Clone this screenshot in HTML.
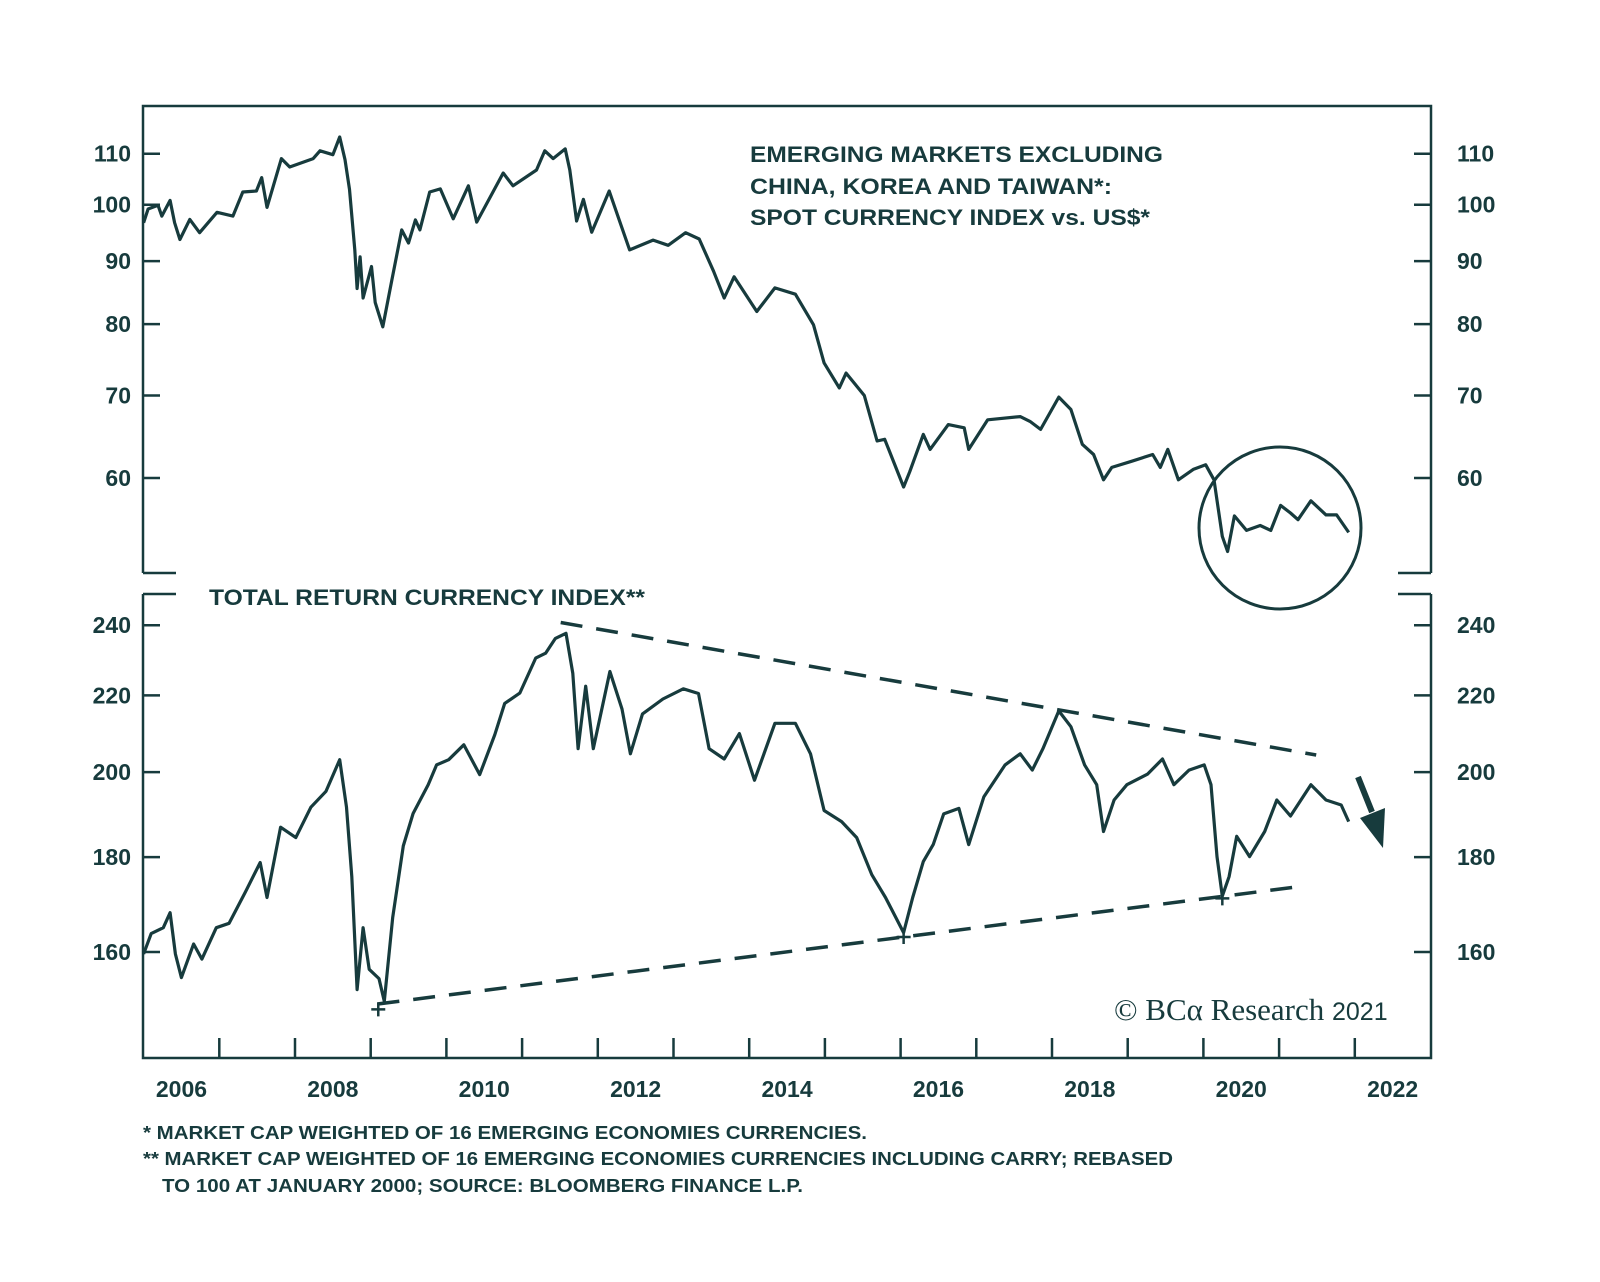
<!DOCTYPE html>
<html><head><meta charset="utf-8"><style>
html,body{margin:0;padding:0;background:#fff;}
svg{display:block;}
text{font-family:"Liberation Sans",sans-serif;fill:#173b3d;}
</style></head><body>
<svg id="chart" width="1600" height="1282" viewBox="0 0 1600 1282" xmlns="http://www.w3.org/2000/svg">
<g id="frame" stroke="#173b3d" stroke-width="2.5" fill="none">
<path d="M143,573 L143,106 L1431,106 L1431,573"/>
<path d="M143,573 L176,573 M1398,573 L1431,573"/>
<path d="M143,594 L176,594 M1398,594 L1431,594"/>
<path d="M143,594 L143,1058 L1431,1058 L1431,594"/>
</g>
<g id="axes"></g>
<g id="series"></g>
<text x="750" y="162" font-size="22" font-weight="bold" textLength="413" lengthAdjust="spacingAndGlyphs">EMERGING MARKETS EXCLUDING</text>
<text x="750" y="194" font-size="22" font-weight="bold" textLength="362" lengthAdjust="spacingAndGlyphs">CHINA, KOREA AND TAIWAN*:</text>
<text x="750" y="225" font-size="22" font-weight="bold" textLength="400" lengthAdjust="spacingAndGlyphs">SPOT CURRENCY INDEX vs. US$*</text>
<text x="209" y="605" font-size="22" font-weight="bold" textLength="436" lengthAdjust="spacingAndGlyphs">TOTAL RETURN CURRENCY INDEX**</text>
<text x="1114" y="1020" font-size="31" style="font-family:'Liberation Serif',serif">© BCα Research <tspan style="font-family:'Liberation Sans',sans-serif" font-size="25">2021</tspan></text>
<text x="143" y="1139" font-size="18" font-weight="bold" textLength="724" lengthAdjust="spacingAndGlyphs">*  MARKET CAP WEIGHTED OF 16 EMERGING ECONOMIES CURRENCIES.</text>
<text x="143" y="1165" font-size="18" font-weight="bold" textLength="1030" lengthAdjust="spacingAndGlyphs">** MARKET CAP WEIGHTED OF 16 EMERGING ECONOMIES CURRENCIES INCLUDING CARRY; REBASED</text>
<text x="162" y="1192" font-size="18" font-weight="bold" textLength="641" lengthAdjust="spacingAndGlyphs">TO 100 AT JANUARY 2000; SOURCE: BLOOMBERG FINANCE L.P.</text>
</svg>
<script>
const topTicks=[60,70,80,90,100,110];
const botTicks=[160,180,200,220,240];
const yearLabels=[2006,2008,2010,2012,2014,2016,2018,2020,2022];
const spotT=[2006.0,2006.06,2006.19,2006.24,2006.35,2006.41,2006.48,2006.61,2006.74,2006.97,2007.18,2007.31,2007.49,2007.56,2007.63,2007.82,2007.93,2008.24,2008.33,2008.5,2008.59,2008.66,2008.72,2008.79,2008.82,2008.86,2008.9,2009.01,2009.06,2009.16,2009.28,2009.41,2009.5,2009.59,2009.65,2009.78,2009.92,2010.09,2010.29,2010.4,2010.75,2010.88,2011.19,2011.3,2011.41,2011.57,2011.63,2011.72,2011.81,2011.92,2012.15,2012.28,2012.42,2012.73,2012.93,2013.16,2013.34,2013.53,2013.67,2013.8,2014.1,2014.34,2014.61,2014.85,2014.99,2015.19,2015.28,2015.52,2015.69,2015.79,2016.04,2016.12,2016.3,2016.39,2016.63,2016.84,2016.9,2017.15,2017.58,2017.71,2017.85,2018.09,2018.25,2018.4,2018.55,2018.68,2018.79,2019.05,2019.33,2019.43,2019.53,2019.67,2019.87,2020.03,2020.14,2020.25,2020.32,2020.41,2020.57,2020.75,2020.89,2021.02,2021.15,2021.25,2021.42,2021.62,2021.76,2021.92];
const spotV=[96.7,99.2,99.9,97.9,100.8,96.7,93.7,97.3,94.9,98.6,97.9,102.4,102.6,105.2,99.5,109,107.3,109,110.6,109.8,113.5,108.8,102.9,91.9,85.5,90.7,84,89.1,83.3,79.6,86.9,95.4,93.1,97.2,95.4,102.4,103,97.4,103.6,96.8,106.1,103.6,106.7,110.6,109,111,106.7,97,101,95,102.6,97.3,91.9,93.6,92.7,94.9,93.8,88.3,84,87.4,81.9,85.6,84.6,79.9,74.4,71,73,70,64.3,64.5,59,60.7,65.1,63.3,66.3,65.9,63.3,66.9,67.3,66.7,65.7,69.8,68.2,63.9,62.7,59.8,61.2,61.9,62.7,61.2,63.3,59.8,61,61.5,59.8,53.8,52.3,55.9,54.4,54.9,54.4,57,56.2,55.5,57.5,56,56,54.2];
const trT=[2006.0,2006.1,2006.26,2006.35,2006.42,2006.5,2006.66,2006.77,2006.96,2007.13,2007.34,2007.54,2007.63,2007.81,2008.01,2008.21,2008.41,2008.59,2008.68,2008.75,2008.82,2008.9,2008.98,2009.11,2009.18,2009.29,2009.43,2009.56,2009.76,2009.87,2010.03,2010.23,2010.44,2010.64,2010.77,2010.97,2011.18,2011.31,2011.44,2011.58,2011.67,2011.74,2011.84,2011.94,2012.16,2012.32,2012.43,2012.59,2012.86,2013.13,2013.33,2013.47,2013.67,2013.87,2014.07,2014.34,2014.61,2014.81,2014.99,2015.22,2015.42,2015.62,2015.8,2016.04,2016.16,2016.3,2016.43,2016.57,2016.77,2016.9,2017.1,2017.38,2017.58,2017.74,2017.88,2018.09,2018.25,2018.43,2018.59,2018.68,2018.82,2018.99,2019.26,2019.46,2019.61,2019.81,2020.01,2020.1,2020.18,2020.25,2020.34,2020.44,2020.61,2020.81,2020.97,2021.15,2021.42,2021.62,2021.82,2021.92];
const trV=[159.6,163.7,164.9,168,159.6,155,161.6,158.6,164.9,165.8,172.2,178.8,171.2,186.8,184.4,191.5,195.3,203.1,191.5,175.7,152.7,164.9,156.6,154.8,150.5,167,182.5,190,196.9,201.8,203.1,206.9,199.4,209.5,217.8,220.6,230.4,231.8,236.1,237.6,226.1,205.9,222.5,205.9,226.6,216.3,204.6,215,219,221.8,220.5,205.9,203.3,209.8,198,212.5,212.5,204.6,190.7,188.1,184.4,176.1,171.2,163.9,171.2,179,182.8,189.9,191.2,182.8,194,201.8,204.6,200.5,205.9,215.8,211.6,201.8,196.9,185.8,193.2,196.9,199.5,203.3,196.9,200.5,201.8,196.9,180.1,171.5,175.7,184.7,180.1,185.8,193.2,189.4,196.9,193.2,192,188.1];
const upperTrendT=[2011.51,2021.49];
const upperTrendV=[240.8,204.3];
const lowerTrendT=[2009.09,2021.35];
const lowerTrendV=[150,173.7];
const lowMarkT=[2009.1,2016.04,2020.25];
const lowMarkV=[149,163,171];

const NS="http://www.w3.org/2000/svg";
const C="#173b3d";
const X=t=>143.6+(t-2006)*75.7;
const YT=v=>478-Math.log(v/60)*535;
const YB=v=>952-Math.log(v/160)*806;
const axes=document.getElementById('axes');
const ser=document.getElementById('series');
function mk(tag,attrs,parent){const e=document.createElementNS(NS,tag);for(const k in attrs)e.setAttribute(k,attrs[k]);parent.appendChild(e);return e;}
topTicks.forEach(v=>{
 const y=YT(v);
 const t=mk('path',{d:`M143,${y}H160M1414,${y}H1431`,stroke:C,'stroke-width':2.5},axes);
 
 
 const l=mk('text',{x:131,y:y+8,'text-anchor':'end','font-size':23,'font-weight':'bold'},axes);l.textContent=v;
 
 
 const r=mk('text',{x:1457,y:y+8,'font-size':23,'font-weight':'bold'},axes);r.textContent=v;
 
 
});
botTicks.forEach(v=>{
 const y=YB(v);
 const t=mk('path',{d:`M143,${y}H160M1414,${y}H1431`,stroke:C,'stroke-width':2.5},axes);
 
 
 const l=mk('text',{x:131,y:y+8,'text-anchor':'end','font-size':23,'font-weight':'bold'},axes);l.textContent=v;
 
 
 const r=mk('text',{x:1457,y:y+8,'font-size':23,'font-weight':'bold'},axes);r.textContent=v;
 
 
});
for(let yr=2007;yr<=2022;yr++){
 const x=X(yr);
 const t=mk('path',{d:`M${x},1058V1038`,stroke:C,'stroke-width':2.5},axes);
 
 
}
yearLabels.forEach(yr=>{
 const l=mk('text',{x:X(yr+0.5),y:1097,'text-anchor':'middle','font-size':23,'font-weight':'bold'},axes);l.textContent=yr;
 
 
});
function line(T,V,Y){return T.map((t,i)=>(i?'L':'M')+X(t).toFixed(1)+','+Y(V[i]).toFixed(1)).join('');}
const p1=mk('path',{d:line(spotT,spotV,YT),fill:'none',stroke:C,'stroke-width':3.2,'stroke-linejoin':'round'},ser);


const p2=mk('path',{d:line(trT,trV,YB),fill:'none',stroke:C,'stroke-width':3.2,'stroke-linejoin':'round'},ser);


const u=mk('path',{d:line(upperTrendT,upperTrendV,YB),fill:'none',stroke:C,'stroke-width':3.5,'stroke-dasharray':'22 14'},ser);


const lo=mk('path',{d:line(lowerTrendT,lowerTrendV,YB),fill:'none',stroke:C,'stroke-width':3.5,'stroke-dasharray':'22 14'},ser);


lowMarkT.forEach((t,i)=>{
 const x=X(t),y=YB(lowMarkV[i]);
 const m=mk('path',{d:`M${x-7},${y}H${x+7}M${x},${y-7}V${y+7}`,stroke:C,'stroke-width':2.5},ser);
 
 
});
const c=mk('circle',{cx:1280,cy:528,r:81,fill:'none',stroke:C,'stroke-width':3},ser);


const a=mk('path',{d:'M1358,777L1372,812',stroke:C,'stroke-width':6,fill:'none'},ser);


const ah=mk('path',{d:'M1360,818L1385,808L1383,848Z',fill:C},ser);


</script>
</body></html>
